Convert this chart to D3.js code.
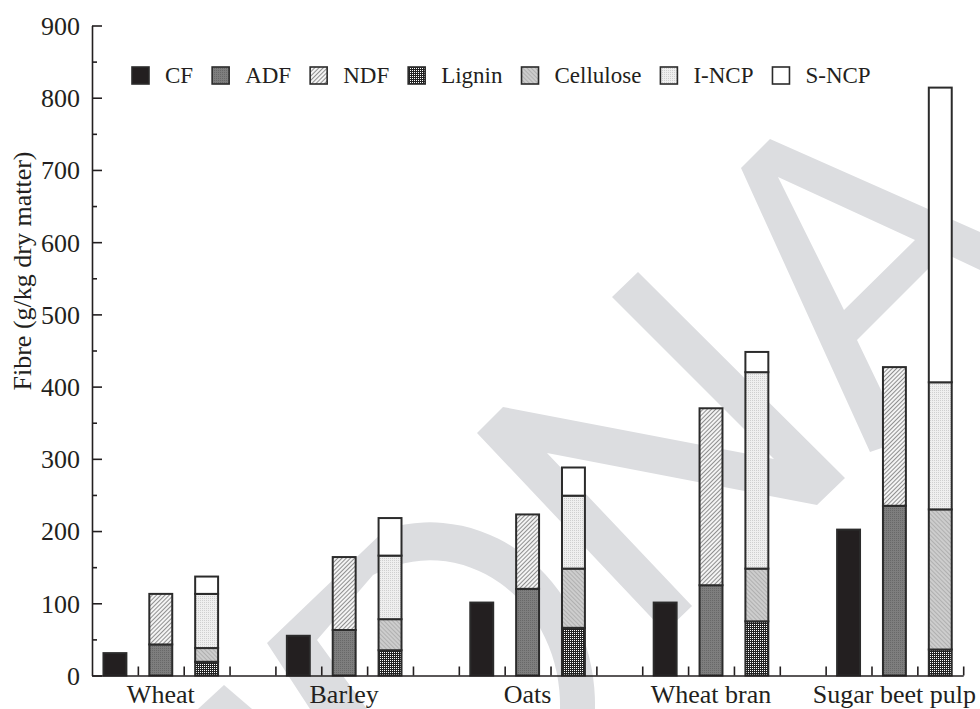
<!DOCTYPE html>
<html>
<head>
<meta charset="utf-8">
<script src="https://cdn.jsdelivr.net/npm/d3@7"></script>
<style>
  body { margin: 0; background: #fff; }
  svg { display: block; font-family: "Liberation Serif", "Times New Roman", serif; }
</style>
</head>
<body>
<div id="chart"></div>
<script>
// values (g/kg dry matter)
const categories = ["Wheat", "Barley", "Oats", "Wheat bran", "Sugar beet pulp"];
const cf = [31, 55, 101, 101, 202];
const adf = [43, 63, 120, 125, 235];
const ndf = [113, 164, 223, 370, 427];
const lignin = [19, 35, 66, 75, 36];
const cellulose = [19, 43, 82, 73, 194];
const incp = [75, 88, 101, 272, 176];
const sncp = [24, 52, 39, 28, 408];
const legendNames = ["CF", "ADF", "NDF", "Lignin", "Cellulose", "I-NCP", "S-NCP"];
const yTicks = [0, 100, 200, 300, 400, 500, 600, 700, 800, 900];
const yMinorTicks = [50, 150, 250, 350, 450, 550, 650, 750, 850];

const W = 980, H = 709;
const plotLeft = 92, plotRight = 963.2, plotTop = 25.5, plotBottom = 675.5;
const nSlots = categories.length * 4 - 1;
const ink = "#231f20";

const svg = d3.select("#chart").append("svg")
    .attr("width", W)
    .attr("height", H);

const defs = svg.append("defs");

// fill patterns
function hatch(id, size, angle, bg, stroke, sw) {
    const p = defs.append("pattern")
        .attr("id", id)
        .attr("patternUnits", "userSpaceOnUse")
        .attr("width", size).attr("height", size)
        .attr("patternTransform", "rotate(" + angle + ")");
    p.append("rect").attr("width", size).attr("height", size).attr("fill", bg);
    p.append("line").attr("x1", 0).attr("y1", 0).attr("x2", 0).attr("y2", size)
        .attr("stroke", stroke).attr("stroke-width", sw);
}
function dots(id, bg, fg) {
    const p = defs.append("pattern")
        .attr("id", id)
        .attr("patternUnits", "userSpaceOnUse")
        .attr("width", 2).attr("height", 2);
    p.append("rect").attr("width", 2).attr("height", 2).attr("fill", bg);
    p.append("rect").attr("width", 1).attr("height", 1).attr("fill", fg);
}
dots("p-adf", "#7e7e7e", "#686868");
hatch("p-ndf", 3, 45, "#f4f4f4", "#4a4a4a", 1.2);
dots("p-lig", "#222222", "#ffffff");
hatch("p-cel", 3, -45, "#cdcdcd", "#939393", 1);
dots("p-incp", "#efefef", "#cfcfcf");

const fills = {
    CF: ink,
    ADF: "url(#p-adf)",
    NDF: "url(#p-ndf)",
    Lignin: "url(#p-lig)",
    Cellulose: "url(#p-cel)",
    "I-NCP": "url(#p-incp)",
    "S-NCP": "#ffffff"
};

// grey watermark behind the chart
const mark = svg.append("g").attr("fill", "#dcdde0").attr("fill-rule", "evenodd");
mark.append("path").attr("d",
    "M770,139 L980,232 L980,270 L944,253 L857,340 L905,440 L870,452 L741,168 Z " +
    "M778,177 L915,240 L844,310 Z");
mark.append("path").attr("d",
    "M612,297 L638,272 L845,478 L817,505 L547,453 L692,606 L665,632 L477,433 L503,407 L774,459 Z");
mark.append("path").attr("d",
    "M310,709 L267,643 L386,529 A165,183 0 0 1 595,709 L560,709 A130,145 0 0 0 373,575 L317,640 L367,709 Z");
mark.append("path").attr("d", "M198,709 L224,685 L252,709 Z");

// scales
const x = d3.scaleBand().domain(d3.range(nSlots)).range([plotLeft, plotRight]);
const xTick = d3.scaleLinear().domain([0, nSlots]).range([plotLeft, plotRight]);
const y = d3.scaleLinear().domain([0, 900]).range([plotBottom, plotTop]);
const bw = x.bandwidth() * 0.5;
const barX = slot => x(slot) + (x.bandwidth() - bw) / 2;

// bars
const bars = svg.append("g")
    .attr("stroke", "#2b2b2b")
    .attr("stroke-width", 2);

function seg(slot, y0, y1, fill) {
    bars.append("rect")
        .attr("x", barX(slot))
        .attr("width", bw)
        .attr("y", y(y1))
        .attr("height", y(y0) - y(y1))
        .attr("fill", fill);
}

categories.forEach((c, i) => {
    seg(i * 4, 0, cf[i], fills.CF);
    seg(i * 4 + 1, 0, adf[i], fills.ADF);
    seg(i * 4 + 1, adf[i], ndf[i], fills.NDF);
});

const rows = categories.map((c, i) => ({
    Lignin: lignin[i], Cellulose: cellulose[i], "I-NCP": incp[i], "S-NCP": sncp[i]
}));
const stacked = d3.stack().keys(["Lignin", "Cellulose", "I-NCP", "S-NCP"])(rows);
stacked.forEach(s => {
    s.forEach((d, i) => seg(i * 4 + 2, d[0], d[1], fills[s.key]));
});

// axes
const yAxis = svg.append("g")
    .attr("transform", "translate(" + plotLeft + ",0)")
    .call(d3.axisLeft(y).tickValues(yTicks).tickSizeInner(-10).tickSizeOuter(0).tickPadding(12));
svg.append("g")
    .attr("transform", "translate(" + plotLeft + ",0)")
    .call(d3.axisLeft(y).tickValues(yMinorTicks).tickSize(-5).tickFormat(""))
    .call(g => g.select(".domain").remove());

svg.append("g")
    .attr("transform", "translate(0," + plotBottom + ")")
    .call(d3.axisBottom(xTick).tickValues(d3.range(1, nSlots + 1)).tickSize(-9).tickSizeOuter(0).tickFormat(""));

svg.selectAll(".domain, .tick line")
    .attr("stroke", ink)
    .attr("stroke-width", 1.6);

yAxis.selectAll("text")
    .attr("font-family", "Liberation Serif, Times New Roman, serif")
    .attr("font-size", 26)
    .attr("fill", ink)
    .attr("dy", "0.34em");

// category labels under the middle bar of each group
svg.append("g").selectAll("text")
    .data(categories)
    .enter().append("text")
    .attr("x", (d, i) => x(i * 4 + 1) + x.bandwidth() / 2)
    .attr("y", 703)
    .attr("text-anchor", "middle")
    .attr("font-size", 26)
    .attr("fill", ink)
    .text(d => d);

// y axis title
svg.append("text")
    .attr("transform", "translate(31,271) rotate(-90)")
    .attr("text-anchor", "middle")
    .attr("font-size", 26)
    .attr("fill", ink)
    .text("Fibre (g/kg dry matter)");

// legend
const legend = svg.append("g");
let lx = 132;
legendNames.forEach(name => {
    legend.append("rect")
        .attr("x", lx).attr("y", 67)
        .attr("width", 17).attr("height", 17)
        .attr("fill", fills[name])
        .attr("stroke", "#2b2b2b")
        .attr("stroke-width", 1.6);
    const t = legend.append("text")
        .attr("x", lx + 33).attr("y", 83)
        .attr("font-size", 23)
        .attr("fill", ink)
        .text(name);
    lx += 33 + t.node().getComputedTextLength() + 19;
});
</script>
</body>
</html>
